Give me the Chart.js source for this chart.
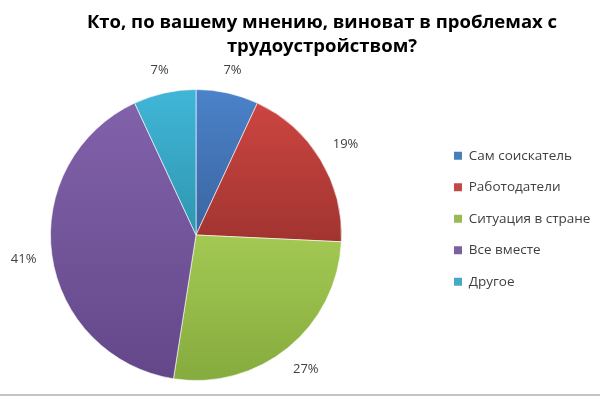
<!DOCTYPE html>
<html>
<head>
<meta charset="utf-8">
<script src="https://cdn.jsdelivr.net/npm/chart.js@4.4.1/dist/chart.umd.min.js"></script>
<style>
  html, body { margin: 0; padding: 0; background: #fff; }
  #wrap { width: 600px; height: 398px; }
</style>
</head>
<body>
<div id="wrap"><canvas id="pieChart"></canvas></div>
<script>
const titleLines = ["Кто, по вашему мнению, виноват в проблемах с", "трудоустройством?"];
const categories = ["Сам соискатель", "Работодатели", "Ситуация в стране", "Все вместе", "Другое"];
const shares = [7, 19, 27, 41, 7]; // проценты

// цвета (верх/низ градиента и цвет в легенде)
const topColors = ["#4b82c9", "#cc4541", "#a3c953", "#8162ab", "#40b6d7"];
const bottomColors = ["#3a65a1", "#a13430", "#86ab3e", "#644789", "#2f96b0"];
const legendColors = ["#4a7ebb", "#be4b48", "#98b954", "#7d60a0", "#46aac5"];

// вертикальный градиент по границам каждого сектора
function sliceGradient(c) {
  const chart = c.chart, i = c.dataIndex, area = chart.chartArea;
  if (!area) return legendColors[i];
  const cy = (area.top + area.bottom) / 2;
  const r = Math.min(area.width, area.height) / 2;
  const total = shares.reduce((a, b) => a + b, 0);
  let before = 0;
  for (let k = 0; k < i; k++) before += shares[k];
  const a0 = before / total * 2 * Math.PI;
  const a1 = (before + shares[i]) / total * 2 * Math.PI;
  const ys = [cy, cy - r * Math.cos(a0), cy - r * Math.cos(a1)];
  if (a0 <= 0) ys.push(cy - r);
  if (a0 < Math.PI && a1 > Math.PI) ys.push(cy + r);
  const g = chart.ctx.createLinearGradient(0, Math.min(...ys), 0, Math.max(...ys));
  g.addColorStop(0, topColors[i]);
  g.addColorStop(1, bottomColors[i]);
  return g;
}

// подписи процентов снаружи круга
const outsideLabels = {
  id: "outsideLabels",
  afterDatasetsDraw(chart) {
    const ctx = chart.ctx;
    const meta = chart.getDatasetMeta(0);
    ctx.save();
    ctx.font = '13px "Open Sans"';
    ctx.fillStyle = "#404040";
    ctx.textAlign = "center";
    ctx.textBaseline = "middle";
    meta.data.forEach((arc, i) => {
      const p = arc.getProps(["x", "y", "startAngle", "endAngle", "outerRadius"], true);
      const mid = (p.startAngle + p.endAngle) / 2;
      const text = shares[i] + "%";
      const w = ctx.measureText(text).width;
      const dx = Math.cos(mid), dy = Math.sin(mid);
      const d = p.outerRadius + 15 + Math.abs(dx) * w / 2 + Math.abs(dy) * 6.5;
      ctx.fillText(text, p.x + dx * d, p.y + dy * d);
    });
    ctx.restore();
  }
};

// расположение круга, легенды и заголовка
const placeBoxes = {
  id: "placeBoxes",
  afterLayout(chart) {
    const a = chart.chartArea;
    a.left = 50; a.right = 342; a.top = 89; a.bottom = 381;
    a.width = 292; a.height = 292;
    const lg = chart.legend;
    const lw = lg.width, lh = lg.height;
    lg.left = 436; lg.right = 436 + lw;
    lg.top = 131; lg.bottom = 131 + lh;
    const t = chart.titleBlock;
    t.left = 44; t.right = 600;
  },
  beforeDraw(chart) {
    const ctx = chart.ctx;
    ctx.save();
    ctx.fillStyle = "#ffffff";
    ctx.fillRect(0, 0, chart.width, chart.height);
    ctx.restore();
  },
  afterDraw(chart) {
    const ctx = chart.ctx;
    ctx.save();
    ctx.fillStyle = "#c4c4c4";
    ctx.fillRect(0, chart.height - 4, chart.width, 2);
    ctx.restore();
  }
};

new Chart(document.getElementById("pieChart"), {
  type: "pie",
  data: {
    labels: categories,
    datasets: [{
      data: shares,
      backgroundColor: sliceGradient,
      borderColor: "rgba(255,255,255,0.6)",
      borderWidth: 1,
      clip: false
    }]
  },
  options: {
    responsive: true,
    maintainAspectRatio: false,
    animation: false,
    layout: { padding: 0 },
    plugins: {
      title: {
        display: true,
        text: titleLines,
        color: "#000000",
        font: { family: "Open Sans", size: 18.5, weight: "bold", lineHeight: 1.3 },
        padding: { top: 11, bottom: 10 }
      },
      legend: {
        position: "right",
        align: "start",
        labels: {
          boxWidth: 8,
          boxHeight: 8,
          padding: 18,
          color: "#404040",
          font: { family: "Open Sans", size: 13.5 },
          generateLabels: () => categories.map((c, i) => ({
            text: c,
            fillStyle: legendColors[i],
            strokeStyle: legendColors[i],
            lineWidth: 0,
            fontColor: "#404040",
            hidden: false,
            index: i
          }))
        }
      },
      tooltip: { enabled: false }
    }
  },
  plugins: [outsideLabels, placeBoxes]
});
</script>
</body>
</html>
